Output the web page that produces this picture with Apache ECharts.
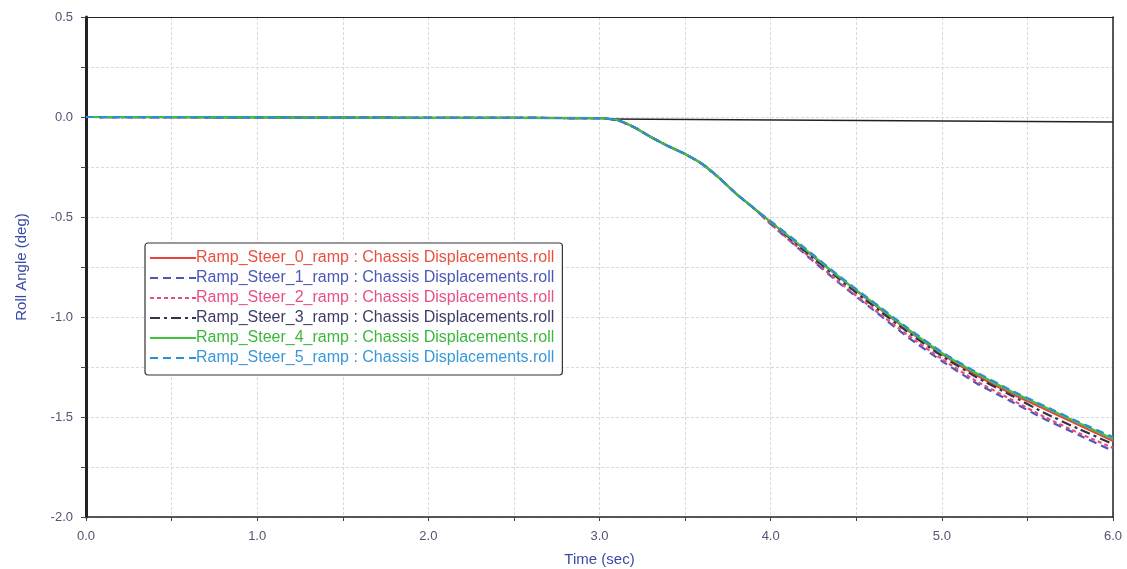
<!DOCTYPE html>
<html><head><meta charset="utf-8">
<script src="https://cdn.jsdelivr.net/npm/echarts@6/dist/echarts.min.js"></script>
<style>html,body{margin:0;padding:0;background:#fff}#c{width:1127px;height:569px}</style>
</head><body><div id="c"></div>
<script>
const timeSec = [0, 1, 2, 3.0, 3.1, 3.2, 3.3, 3.4, 3.5, 3.6, 3.7, 3.8, 3.9, 4.0, 4.2, 4.4, 4.6, 4.8, 5.0, 5.2, 5.4, 5.6, 5.8, 6.0];
const commonStart = [0, -0.002, -0.004, -0.006, -0.014, -0.05, -0.10, -0.145, -0.185, -0.235, -0.305, -0.385, -0.455];
const steer0 = commonStart.concat([-0.525, -0.665, -0.80, -0.935, -1.065, -1.185, -1.29, -1.38, -1.46, -1.54, -1.62]);
const steer1 = commonStart.concat([-0.535, -0.685, -0.83, -0.965, -1.10, -1.22, -1.33, -1.42, -1.51, -1.59, -1.67]);
const steer2 = commonStart.concat([-0.535, -0.68, -0.825, -0.96, -1.09, -1.21, -1.32, -1.41, -1.50, -1.58, -1.655]);
const steer3 = commonStart.concat([-0.525, -0.67, -0.81, -0.945, -1.075, -1.195, -1.30, -1.39, -1.48, -1.56, -1.635]);
const steer4 = commonStart.concat([-0.525, -0.66, -0.80, -0.93, -1.06, -1.18, -1.28, -1.37, -1.45, -1.53, -1.61]);
const steer5 = commonStart.concat([-0.52, -0.655, -0.795, -0.925, -1.055, -1.175, -1.275, -1.365, -1.445, -1.525, -1.60]);
const refLineX = [3.05, 6.0];
const refLineY = [-0.01, -0.025];
const seriesNames = [
  'Ramp_Steer_0_ramp : Chassis Displacements.roll',
  'Ramp_Steer_1_ramp : Chassis Displacements.roll',
  'Ramp_Steer_2_ramp : Chassis Displacements.roll',
  'Ramp_Steer_3_ramp : Chassis Displacements.roll',
  'Ramp_Steer_4_ramp : Chassis Displacements.roll',
  'Ramp_Steer_5_ramp : Chassis Displacements.roll'
];
const seriesValues = [steer0, steer1, steer2, steer3, steer4, steer5];
const colors = ['#e8443c', '#4a58b8', '#e84a80', '#33334a', '#3cc43c', '#2b8fd6'];
const textColors = ['#e8503f', '#4a58b8', '#e8508a', '#3d3d6a', '#3cb83c', '#3a98d8'];
const dashes = ['solid', [8, 5], [4, 3], [10, 4, 3, 4], 'solid', [8, 5]];

const chart = echarts.init(document.getElementById('c'), null, {renderer: 'canvas'});
const series = seriesValues.map((vals, i) => ({
  name: seriesNames[i],
  type: 'line',
  data: timeSec.map((t, j) => [t, vals[j]]),
  symbol: 'none',
  showSymbol: false,
  smooth: 0.15,
  z: 3 + i,
  lineStyle: {color: colors[i], width: 2.2, type: dashes[i]},
  itemStyle: {color: colors[i]}
}));
series.unshift({
  name: 'ref',
  type: 'line',
  data: refLineX.map((t, j) => [t, refLineY[j]]),
  symbol: 'none',
  z: 2,
  lineStyle: {color: '#222', width: 1.5}
});
const axisFont = 'Liberation Sans, Arial';
chart.setOption({
  animation: false,
  backgroundColor: '#fff',
  grid: {left: 86, right: 14, top: 17, bottom: 52, outerBoundsMode: 'none', containLabel: false},
  legend: {
    orient: 'vertical', left: 145, top: 243,
    data: seriesNames.map((n, i) => ({name: n, textStyle: {color: textColors[i]}})),
    itemWidth: 46, itemHeight: 14, itemGap: 2,
    itemStyle: {opacity: 0},
    padding: [6, 8, 8, 4],
    backgroundColor: '#fff', borderColor: '#333', borderWidth: 1.2, borderRadius: 3,
    textStyle: {fontFamily: axisFont, fontSize: 16, lineHeight: 18, padding: [0, 0, 0, -5]},
    z: 20
  },
  xAxis: [{
    type: 'value', min: 0, max: 6, interval: 0.5,
    name: 'Time (sec)', nameLocation: 'middle', nameGap: 35,
    nameTextStyle: {color: '#3a4aa8', fontSize: 15, fontFamily: axisFont},
    axisLine: {show: true, onZero: false, lineStyle: {color: '#222', width: 1.5}},
    axisTick: {show: true, length: 4, lineStyle: {color: '#444'}},
    axisLabel: {color: '#5a5070', fontSize: 13, fontFamily: axisFont, margin: 13,
      formatter: v => (Math.abs(v - Math.round(v)) < 1e-9 ? v.toFixed(1) : '')},
    splitLine: {show: true, lineStyle: {color: '#d6d8e4', type: [3, 2], width: 1}}
  }, {
    type: 'value', min: 0, max: 6, position: 'top',
    axisLine: {show: true, onZero: false, lineStyle: {color: '#222', width: 1.2}},
    axisTick: {show: false}, axisLabel: {show: false}, splitLine: {show: false}
  }],
  yAxis: [{
    type: 'value', min: -2, max: 0.5, interval: 0.25,
    name: 'Roll Angle (deg)', nameLocation: 'middle', nameGap: 57, nameRotate: 90,
    nameTextStyle: {color: '#3a4aa8', fontSize: 15, fontFamily: axisFont},
    axisLine: {show: true, onZero: false, lineStyle: {color: '#222', width: 3}},
    axisTick: {show: true, length: 5, lineStyle: {color: '#444'}},
    axisLabel: {color: '#5a5070', fontSize: 13, fontFamily: axisFont, margin: 13,
      formatter: v => (Math.abs(v * 2 - Math.round(v * 2)) < 1e-9 ? v.toFixed(1) : '')},
    splitLine: {show: true, lineStyle: {color: '#d6d8e4', type: [3, 2], width: 1}}
  }, {
    type: 'value', min: -2, max: 0.5, position: 'right',
    axisLine: {show: true, onZero: false, lineStyle: {color: '#222', width: 1.5}},
    axisTick: {show: false}, axisLabel: {show: false}, splitLine: {show: false}
  }],
  series: series
});
</script></body></html>
